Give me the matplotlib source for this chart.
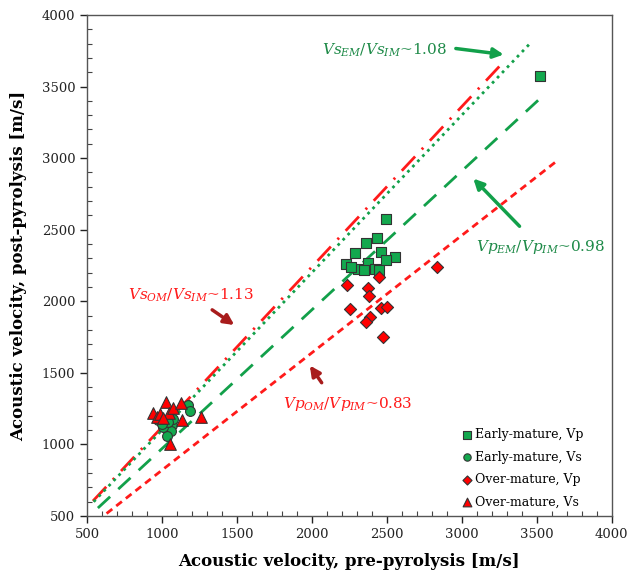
import numpy as np
import matplotlib
matplotlib.use('Agg')
import matplotlib.pyplot as plt
from matplotlib.ticker import MultipleLocator

plt.rcParams['font.family'] = 'DejaVu Serif'
plt.rcParams['mathtext.fontset'] = 'dejavuserif'

# data
em_vp_pre = [2493, 2436, 2358, 2291, 2460, 2555, 2493, 2231, 2375, 2309, 2347, 2418, 2449, 2260, 3524]
em_vp_post = [2575, 2445, 2410, 2340, 2347, 2308, 2287, 2259, 2266, 2224, 2219, 2226, 2219, 2238, 3575]

em_vs_pre = [1176, 1187, 998, 1027, 1064, 1058, 1031, 1009, 976, 1076, 1040, 1000]
em_vs_post = [1276, 1236, 1148, 1148, 1136, 1096, 1059, 1125, 1171, 1176, 1160, 1140]

om_vp_pre = [2835, 2447, 2233, 2375, 2382, 2255, 2464, 2502, 2391, 2362, 2475]
om_vp_post = [2238, 2168, 2114, 2091, 2040, 1945, 1956, 1963, 1889, 1858, 1753]

om_vs_pre = [1027, 942, 969, 1049, 1076, 1124, 1131, 1258, 1053, 985, 1010]
om_vs_post = [1299, 1218, 1194, 1218, 1253, 1288, 1171, 1190, 1001, 1210, 1185]

# trend lines (slope through origin, x range)
fit_names = ['vs_om', 'vs_em', 'vp_em', 'vp_om']
fit_slope = [1.12, 1.10, 0.97, 0.82]
fit_x0 = [540, 545, 573, 631]
fit_x1 = [3250, 3460, 3544, 3633]

red = '#ff1a1a'
green = '#12a04a'
txt_green = '#1e8a48'
dark_red = '#a81c1c'

fig = plt.figure(figsize=(6.3, 5.75), dpi=100)
ax = fig.add_axes([0.138, 0.1026, 0.833, 0.8714])

styles = {
    'vs_om': dict(color=red, lw=2.0, linestyle=(0, (7, 3.5, 0.8, 3.5))),
    'vs_em': dict(color=green, lw=2.0, linestyle=(0, (1, 1.6))),
    'vp_em': dict(color=green, lw=2.0, linestyle=(0, (6, 4))),
    'vp_om': dict(color=red, lw=2.0, linestyle=(0, (2.6, 1.8))),
}
for name, k, x0, x1 in zip(fit_names, fit_slope, fit_x0, fit_x1):
    xs = np.array([x0, x1])
    ax.plot(xs, k * xs, zorder=2, **styles[name])

ax.scatter(em_vp_pre, em_vp_post, marker='s', s=55, color='#13a84e', edgecolor='#333333',
           linewidth=0.8, zorder=3, label='Early-mature, Vp')
ax.scatter(em_vs_pre, em_vs_post, marker='o', s=50, color='#13a84e', edgecolor='#333333',
           linewidth=0.8, zorder=3, label='Early-mature, Vs')
ax.scatter(om_vp_pre, om_vp_post, marker='D', s=38, color='#ff0000', edgecolor='#333333',
           linewidth=0.8, zorder=4, label='Over-mature, Vp')
ax.scatter(om_vs_pre, om_vs_post, marker='^', s=70, color='#ff0000', edgecolor='#333333',
           linewidth=0.8, zorder=4, label='Over-mature, Vs')

ax.set_xlim(500, 4000)
ax.set_ylim(500, 4000)
ax.xaxis.set_major_locator(MultipleLocator(500))
ax.yaxis.set_major_locator(MultipleLocator(500))
ax.xaxis.set_minor_locator(MultipleLocator(100))
ax.yaxis.set_minor_locator(MultipleLocator(100))
ax.tick_params(which='major', direction='out', length=5, width=1, labelsize=9.5, colors='#222222')
ax.tick_params(which='minor', direction='in', length=3.5, width=0.8, colors='#444444')
for sp in ax.spines.values():
    sp.set_color('#555555')
    sp.set_linewidth(1.0)

ax.set_xlabel('Acoustic velocity, pre-pyrolysis [m/s]', fontsize=12, fontweight='bold', labelpad=9)
ax.set_ylabel('Acoustic velocity, post-pyrolysis [m/s]', fontsize=12, fontweight='bold', labelpad=10)

# annotations
ax.text(2067, 3756, r'$Vs_{EM}/Vs_{IM}$~1.08', color=txt_green, fontsize=11, va='center', ha='left')
ax.annotate('', xy=(3298, 3721), xytext=(2942, 3768),
            arrowprops=dict(arrowstyle='-|>', color=green, lw=2.5, mutation_scale=15))

ax.text(3093, 2378, r'$Vp_{EM}/Vp_{IM}$~0.98', color=txt_green, fontsize=11, va='center', ha='left')
ax.annotate('', xy=(3064, 2871), xytext=(3398, 2510),
            arrowprops=dict(arrowstyle='-|>', color=green, lw=2.5, mutation_scale=15))

ax.text(773, 2044, r'$Vs_{OM}/Vs_{IM}$~1.13', color=red, fontsize=11, va='center', ha='left')
ax.annotate('', xy=(1498, 1823), xytext=(1320, 1951),
            arrowprops=dict(arrowstyle='-|>', color=dark_red, lw=2.5, mutation_scale=15))

ax.text(1807, 1281, r'$Vp_{OM}/Vp_{IM}$~0.83', color=red, fontsize=11, va='center', ha='left')
ax.annotate('', xy=(1976, 1567), xytext=(2076, 1415),
            arrowprops=dict(arrowstyle='-|>', color=dark_red, lw=2.5, mutation_scale=15))

leg = ax.legend(loc='lower right', frameon=False, fontsize=9, handlelength=0.6,
                handletextpad=0.3, labelspacing=0.75, borderaxespad=0.2, markerscale=0.75,
                bbox_to_anchor=(0.96, 0.0))

fig.savefig('out.png', dpi=100)
